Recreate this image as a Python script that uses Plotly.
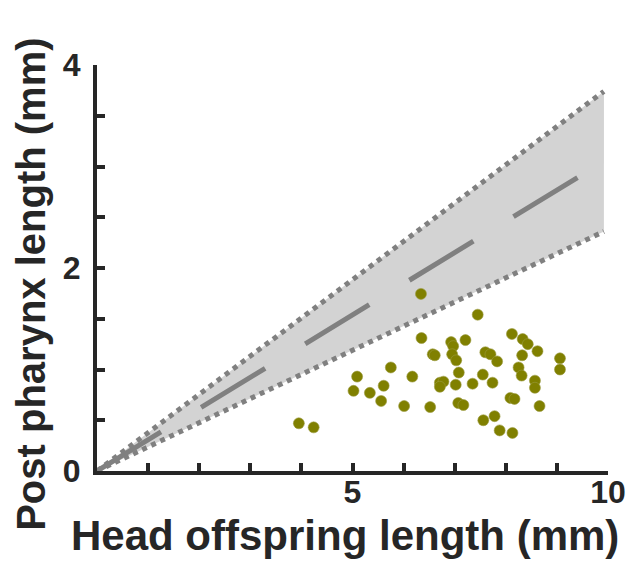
import plotly.graph_objects as go

# Data
head_len = [6.34, 7.45, 6.35, 6.93, 6.97, 7.21, 8.12, 8.33, 8.43, 8.62, 9.06, 9.06,
            6.57, 6.61, 6.95, 7.03, 7.60, 7.70, 7.83, 8.32, 8.25, 8.31, 8.57, 8.57,
            8.66, 7.08, 7.55, 7.74, 7.35, 7.02, 6.71, 6.78, 6.71, 6.17, 5.75, 5.09,
            5.02, 5.34, 5.61, 5.56, 6.01, 6.52, 7.07, 7.17, 8.09, 8.17, 7.78, 7.56,
            7.88, 8.13, 3.95, 4.24]
pharynx_len = [1.745, 1.54, 1.31, 1.27, 1.23, 1.29, 1.35, 1.30, 1.25, 1.18, 1.11, 1.00,
               1.15, 1.14, 1.15, 1.09, 1.17, 1.15, 1.08, 1.14, 1.02, 0.94, 0.89, 0.82,
               0.64, 0.97, 0.95, 0.87, 0.86, 0.85, 0.87, 0.88, 0.83, 0.93, 1.02, 0.93,
               0.79, 0.77, 0.84, 0.69, 0.64, 0.63, 0.67, 0.65, 0.72, 0.71, 0.54, 0.50,
               0.40, 0.375, 0.47, 0.43]

band_x = [0, 9.92]
band_upper = [0, 3.74]
band_lower = [0, 2.36]
band_mid = [0, 3.05]

x_tickvals = list(range(0, 11))
x_ticktext = ["", "", "", "", "", "5", "", "", "", "", "10"]
y_tickvals = [0, 0.5, 1, 1.5, 2, 2.5, 3, 3.5, 4]
y_ticktext = ["0", "", "", "", "2", "", "", "", "4"]

FONT = "Liberation Sans, Arial, sans-serif"
TXT = "#262626"
GRAY = "#808080"

fig = go.Figure()
fig.add_trace(go.Scatter(
    x=band_x + band_x[::-1], y=band_upper + band_lower[::-1],
    fill="toself", fillcolor="#d3d3d3", mode="none", hoverinfo="skip"))
fig.add_trace(go.Scatter(x=band_x, y=band_upper, mode="lines",
                         line=dict(color=GRAY, width=5, dash="5px,5px")))
fig.add_trace(go.Scatter(x=band_x, y=band_lower, mode="lines",
                         line=dict(color=GRAY, width=5, dash="5px,5px")))
fig.add_trace(go.Scatter(x=band_x, y=band_mid, mode="lines",
                         line=dict(color=GRAY, width=5, dash="75px,47px")))
fig.add_trace(go.Scatter(x=head_len, y=pharynx_len, mode="markers",
                         marker=dict(color="#808000", size=11,
                                     line=dict(width=0.6, color="#9a9a40"))))

axis_common = dict(showgrid=False, zeroline=False, showline=True, linewidth=4,
                   linecolor=TXT, ticks="inside", ticklen=8, tickwidth=4,
                   tickcolor=TXT, automargin=False,
                   tickfont=dict(family=FONT, size=32, color=TXT, weight="bold"),
                   fixedrange=True)

fig.update_layout(
    width=629, height=564,
    margin=dict(l=97, r=21, t=65, b=93, autoexpand=False),
    paper_bgcolor="white", plot_bgcolor="white",
    showlegend=False,
    font=dict(family=FONT, color=TXT),
    xaxis=dict(range=[0, 10], tickvals=x_tickvals, ticktext=x_ticktext,
               ticklabelstandoff=-10, **axis_common),
    yaxis=dict(range=[0, 4], tickvals=y_tickvals, ticktext=y_ticktext,
               ticklabelstandoff=6, **axis_common),
    annotations=[
        dict(text="<b>Head offspring length (mm)</b>", xref="paper", yref="paper",
             x=0.485, y=-0.16, xanchor="center", yanchor="middle", showarrow=False,
             font=dict(family=FONT, size=42, color=TXT)),
        dict(text="<b>Post pharynx length (mm)</b>", xref="paper", yref="paper",
             x=-0.128, y=0.46, xanchor="center", yanchor="middle", showarrow=False,
             textangle=-90, font=dict(family=FONT, size=40, color=TXT)),
    ],
)

fig.write_html("out.html")
